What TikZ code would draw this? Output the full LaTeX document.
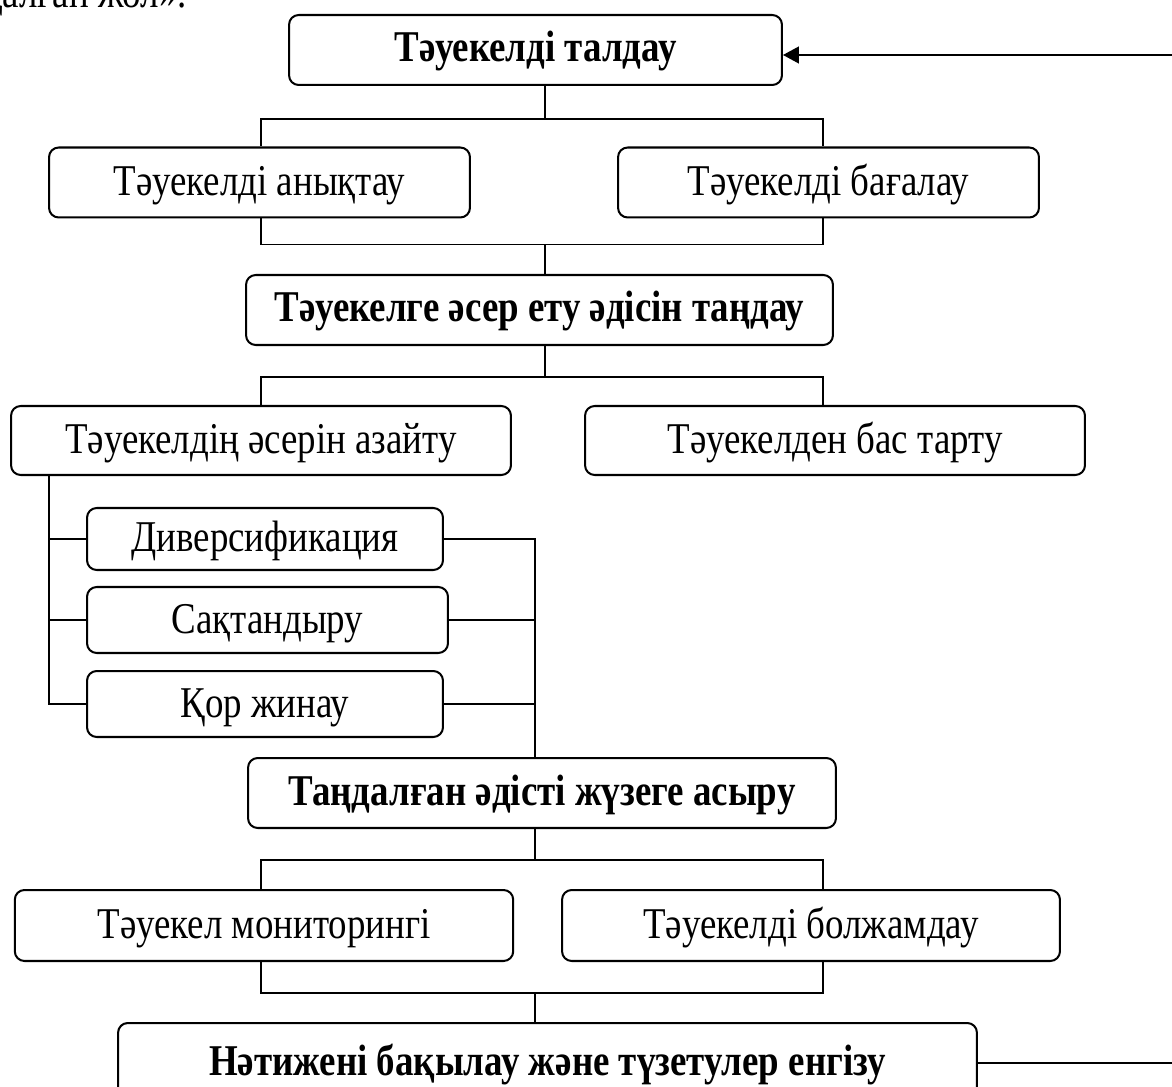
\documentclass[tikz,border=0pt]{standalone}
\usepackage{fontspec}
\setmainfont{Liberation Serif}[FakeStretch=0.84]
\usetikzlibrary{arrows.meta}

\begin{document}
\begin{tikzpicture}[x=0.02cm,y=-0.02cm,font=\fontsize{25}{30}\selectfont,
  box/.style={draw,rounded corners=5.5pt,line width=1.15pt,inner sep=0pt,align=center,minimum height=1.4cm,text height=0.62cm,text depth=0.1cm},
  boldbox/.style={box,font=\fontsize{25}{30}\selectfont\bfseries,text depth=0.14cm},
  ln/.style={line width=0.9pt}]
      \useasboundingbox (0,0) rectangle (1172,1087);
      \coordinate (up) at (545,0);
      \coordinate (dn) at (535,0);
      \coordinate (lc) at (261,0);
      \coordinate (rc) at (823,0);
      \coordinate (lv) at (49,0);
      \node [anchor=base east] (prev) at (193,8) {қалған жол».};
      \node [boldbox,minimum width=9.86cm]  (talday) at (535.5,50) {Тәуекелді талдау};
      \node [box,minimum width=8.42cm]  (aniq) at (259.5,182.5) {Тәуекелді анықтау};
      \node [box,minimum width=8.42cm]  (bagal) at (828.5,182.5) {Тәуекелді бағалау};
      \node [boldbox,minimum width=11.74cm]  (tandau) at (539.5,310) {Тәуекелге әсер ету әдісін таңдау};
      \node [box,minimum width=10cm,minimum height=1.38cm]  (azait) at (261,440.5) {Тәуекелдің әсерін азайту};
      \node [box,minimum width=10cm,minimum height=1.38cm]  (tartu) at (835,440.5) {Тәуекелден бас тарту};
      \node [box,minimum width=7.12cm,minimum height=1.24cm]  (div) at (265,539) {Диверсификация};
      \node [box,minimum width=7.22cm,minimum height=1.32cm]  (sakt) at (267.5,620) {Сақтандыру};
      \node [box,minimum width=7.12cm,minimum height=1.32cm]  (qor) at (265,704) {Қор жинау};
      \node [boldbox,minimum width=11.76cm]  (iske) at (542,793) {Таңдалған әдісті жүзеге асыру};
      \node [box,minimum width=9.97cm,minimum height=1.42cm]  (monit) at (264,925.5) {Тәуекел мониторингі};
      \node [box,minimum width=9.96cm,minimum height=1.42cm]  (bolzh) at (811,925.5) {Тәуекелді болжамдау};
      \node [boldbox,minimum width=17.18cm,minimum height=1.6cm]  (baqyl) at (547.5,1063) {Нәтижені бақылау және түзетулер енгізу};
      \draw [ln] (talday.south -| up) -- ++(0,33) coordinate (j1);
      \draw [ln] (aniq.north -| lc) |- (j1) -| (bagal.north -| rc);
      \draw [ln] (aniq.south -| lc) -- ++(0,26) coordinate (j2) -| (bagal.south -| rc);
      \draw [ln] (j2 -| up) -- (tandau.north -| up);
      \draw [ln] (tandau.south -| up) -- ++(0,31) coordinate (j3);
      \draw [ln] (azait.north -| lc) |- (j3) -| (tartu.north -| rc);
      \draw [ln] (azait.south -| lv) |- (qor.west);
      \foreach \b in {div,sakt}
       {\draw [ln] (\b.west) -- (\b.west -| lv);}
      \draw [ln] (div.east) -| (iske.north -| dn);
      \foreach \b in {sakt,qor}
       {\draw [ln] (\b.east) -- (\b.east -| dn);}
      \draw [ln] (iske.south -| dn) -- ++(0,31) coordinate (j4);
      \draw [ln] (monit.north -| lc) |- (j4) -| (bolzh.north -| rc);
      \draw [ln] (monit.south -| lc) -- ++(0,31) coordinate (j5) -| (bolzh.south -| rc);
      \draw [ln] (j5 -| dn) -- (baqyl.north -| dn);
      \draw [ln,-{Triangle[length=9pt,width=9.5pt]}] (baqyl.east) -- ++(240,0) |- ([yshift=-0.1cm]talday.east);
\end{tikzpicture}
\end{document}
